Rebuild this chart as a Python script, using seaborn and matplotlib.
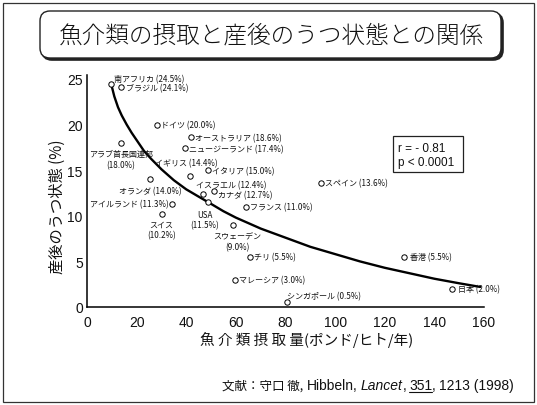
import matplotlib
matplotlib.use("Agg")
import matplotlib.pyplot as plt
import pandas as pd
import seaborn as sns
from matplotlib.patches import FancyBboxPatch, Rectangle
from matplotlib.lines import Line2D

# --- data -------------------------------------------------------------------
countries = ["南アフリカ", "ブラジル", "ドイツ", "オーストラリア", "ニュージーランド",
             "アラブ首長国連邦", "イギリス", "イタリア", "オランダ", "イスラエル",
             "カナダ", "USA", "フランス", "スペイン", "アイルランド", "スイス",
             "スウェーデン", "チリ", "マレーシア", "シンガポール", "香港", "日本"]
fish_intake = [9.7, 13.7, 28.2, 41.9, 39.5, 13.7, 41.6, 48.8, 25.5, 46.6,
               51.3, 48.8, 64.0, 94.4, 34.2, 30.1, 59.0, 65.8, 59.6, 80.8,
               127.8, 147.2]
depression_rate = [24.5, 24.1, 20.0, 18.6, 17.4, 18.0, 14.4, 15.0, 14.0, 12.4,
                   12.7, 11.5, 11.0, 13.6, 11.3, 10.2, 9.0, 5.5, 3.0, 0.5,
                   5.5, 2.0]

# regression curve, sampled along its length
curve_x = [9.7, 11, 12.5, 14, 16, 18, 20, 23, 26, 30, 35, 40, 45, 48.8, 55,
           60, 65, 70, 80, 90, 100, 110, 120, 130, 140, 150, 158.5]
curve_y = [24.5, 23.1, 21.9, 21.0, 20.0, 19.1, 18.3, 17.1, 16.2, 15.1, 13.9,
           12.9, 12.1, 11.5, 10.5, 9.8, 9.2, 8.6, 7.6, 6.6, 5.8, 5.0, 4.3,
           3.7, 3.1, 2.6, 2.2]

x_ticks = [0, 20, 40, 60, 80, 100, 120, 140, 160]
y_ticks = [0, 5, 10, 15, 20, 25]

r_text = "r = - 0.81"
p_text = "p < 0.0001"

# --- label placement (pixel offsets from each marker; y down) ----------------
label_layout = {
    "南アフリカ": ("right", 3, -5),
    "ブラジル": ("right", 5, 0),
    "ドイツ": ("right", 4, 0),
    "オーストラリア": ("right", 4, 0),
    "ニュージーランド": ("right", 4, 0),
    "アラブ首長国連邦": ("two", 0, 11),
    "イギリス": ("center", -4, -13),
    "イタリア": ("right", 4, 0),
    "オランダ": ("center", 0, 11),
    "イスラエル": ("right", -7, -9),
    "カナダ": ("right", 4, 4),
    "USA": ("two", -3, 12),
    "フランス": ("right", 4, 0),
    "スペイン": ("right", 4, 0),
    "アイルランド": ("left", -3, 0),
    "スイス": ("two", 0, 10),
    "スウェーデン": ("two", 4, 11),
    "チリ": ("right", 4, 0),
    "マレーシア": ("right", 4, 0),
    "シンガポール": ("right", 0, -7),
    "香港": ("right", 6, 0),
    "日本": ("right", 6, 0),
}

W, H, DPI = 537, 406, 100
JP = ["Noto Sans CJK JP", "DejaVu Sans"]

sns.set_theme(style="white")
plt.rcParams["font.family"] = ["Liberation Sans", "Noto Sans CJK JP", "DejaVu Sans"]

fig = plt.figure(figsize=(W / DPI, H / DPI), dpi=DPI)
fig.patch.set_facecolor("white")

# full-figure overlay in pixel coordinates (y grows downward)
bg = fig.add_axes([0, 0, 1, 1], zorder=0)
bg.set_xlim(0, W)
bg.set_ylim(H, 0)
bg.axis("off")

# outer frame
bg.add_patch(Rectangle((3, 4), 531, 399, fill=False, lw=0.9, ec="#333333"))

# title box with drop shadow
bg.add_patch(FancyBboxPatch((42, 14), 461, 47,
                            boxstyle="round,pad=0,rounding_size=10",
                            fc="#222222", ec="#222222", lw=1.2))
bg.add_patch(FancyBboxPatch((40, 12), 461, 47,
                            boxstyle="round,pad=0,rounding_size=10",
                            fc="white", ec="#222222", lw=1.0))
bg.text(271, 36, "魚介類の摂取と産後のうつ状態との関係", family=JP,
        fontsize=17, weight="light", ha="center", va="center", color="#111111")

# axis titles
bg.text(57, 207, "産後のうつ状態 (%)", family=JP, fontsize=11,
        rotation=90, ha="center", va="center", color="#111111")
bg.text(307, 340, "魚 介 類 摂 取 量(ポンド/ヒト/年)", family=JP, fontsize=10.5,
        ha="center", va="center", color="#111111")

# --- main plot ----------------------------------------------------------------
x0, x1 = 87, 484
y_zero, y_per = 308, 9.12
ymax = 25.4
top_px = y_zero - ymax * y_per
ax = fig.add_axes([x0 / W, 1 - y_zero / H, (x1 - x0) / W, (y_zero - top_px) / H],
                  zorder=1)
ax.patch.set_alpha(0)

df = pd.DataFrame({"country": countries, "fish": fish_intake,
                   "depression": depression_rate})
curve = pd.DataFrame({"fish": curve_x, "depression": curve_y})

sns.lineplot(data=curve, x="fish", y="depression", sort=False, estimator=None,
             color="black", lw=1.7, ax=ax, zorder=2)
sns.scatterplot(data=df, x="fish", y="depression", marker="o", s=15,
                color="white", edgecolor="black", linewidth=0.7, ax=ax, zorder=3)

ax.set_xlim(0, 160)
ax.set_ylim(0, ymax)
ax.set_xticks(x_ticks)
ax.set_yticks(y_ticks)
ax.set_xlabel("")
ax.set_ylabel("")
for side in ("top", "right"):
    ax.spines[side].set_visible(False)
for side in ("left", "bottom"):
    ax.spines[side].set_color("black")
    ax.spines[side].set_linewidth(1.1)
ax.tick_params(direction="in", length=4, width=1, colors="black", labelsize=10)
ax.tick_params(axis="y", pad=3)
ax.tick_params(axis="x", pad=6)
for t in ax.get_xticklabels() + ax.get_yticklabels():
    t.set_color("#111111")

# point labels
lab_kw = dict(family=JP, fontsize=5.8, color="#111111", textcoords="offset pixels",
              va="center", annotation_clip=False, zorder=4)
for name, xv, yv in zip(countries, fish_intake, depression_rate):
    mode, dx, dy = label_layout[name]
    pct = f"({yv:.1f}%)"
    if mode == "two":
        ax.annotate(name, (xv, yv), xytext=(dx, -dy), ha="center", **lab_kw)
        ax.annotate(pct, (xv, yv), xytext=(dx, -(dy + 10.5)), ha="center", **lab_kw)
    else:
        ha = {"right": "left", "left": "right", "center": "center"}[mode]
        ax.annotate(f"{name} {pct}", (xv, yv), xytext=(dx, -dy), ha=ha, **lab_kw)

# correlation box
bg.add_patch(Rectangle((393, 137), 70, 36, fill=False, lw=0.9, ec="#222222", zorder=5))
bg.text(398, 149, r_text, fontsize=8.5, ha="left", va="center", color="#111111")
bg.text(398, 163, p_text, fontsize=8.5, ha="left", va="center", color="#111111")

# reference line at the bottom, built segment by segment
fig.canvas.draw()
renderer = fig.canvas.get_renderer()
segments = [
    ("文献：守口 徹,", dict(family=JP, fontsize=9), 3.5, False),
    ("Hibbeln,", dict(fontsize=10), 3, False),
    ("Lancet", dict(fontsize=10, style="italic"), 0, False),
    (",", dict(fontsize=10), 3, False),
    ("351", dict(fontsize=10), 0, True),
    (",", dict(fontsize=10), 3, False),
    ("1213 (1998)", dict(fontsize=10), 0, False),
]
cx, cy = 222, 386
for txt, kw, gap, underline in segments:
    t = bg.text(cx, cy, txt, ha="left", va="center", color="#111111", **kw)
    w = t.get_window_extent(renderer).width
    if underline:
        bg.add_line(Line2D([cx, cx + w], [cy + 6.5, cy + 6.5], color="#111111", lw=0.8))
    cx += w + gap

fig.savefig("out.png", dpi=DPI, facecolor="white")
